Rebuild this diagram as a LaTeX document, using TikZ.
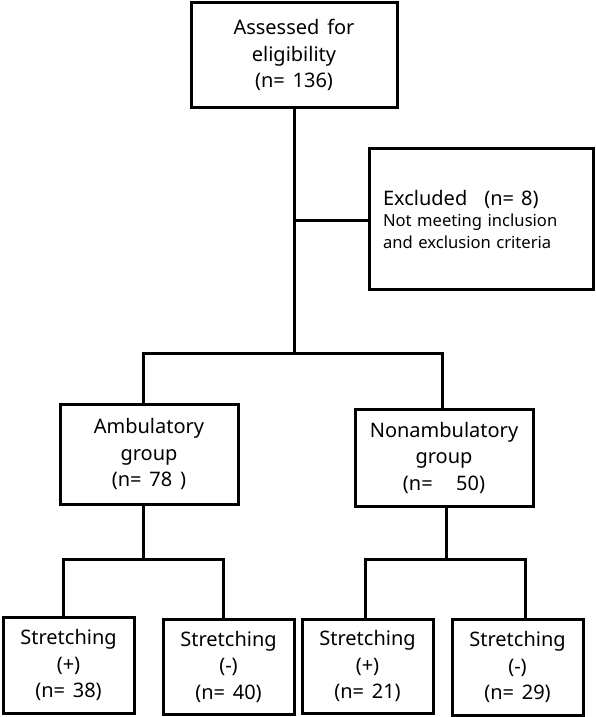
\documentclass[tikz,border=0pt]{standalone}
\usepackage{fontspec}
\setmainfont[WordSpace=1.5]{Noto Sans}
\begin{document}
\begin{tikzpicture}[x=1pt,y=-1pt,
  box/.style={draw=black,line width=3pt,inner sep=0pt,align=center,
    font=\fontsize{20}{26.5}\selectfont},
  conn/.style={draw=black,line width=3pt,line cap=rect}]
\useasboundingbox (0,0) rectangle (596,717);
% nodes
\node[box,minimum width=206pt,minimum height=104pt] (top) at (294,55)
  {Assessed for\\eligibility\\(n= 136)};
\node[box,minimum width=224pt,minimum height=141pt,text width=196pt,align=left,
  font=\fontsize{16.6}{21.5}\selectfont] (excl) at (481,219)
  {{\fontsize{20}{21.5}\selectfont Excluded\hspace{17pt}(n=\hspace{7pt}8)}\\
   Not meeting inclusion\\and exclusion criteria};
\node[box,minimum width=178pt,minimum height=100pt] (amb) at (149,454)
  {Ambulatory\\group\\(n= 78\ )};
\node[box,minimum width=178pt,minimum height=97pt] (non) at (444,457.5)
  {Nonambulatory\\group\\(n=\ \ \ 50)};
\node[box,minimum width=131pt,minimum height=96pt] (s1) at (68.5,665)
  {Stretching\\(+)\\(n= 38)};
\node[box,minimum width=131pt,minimum height=95pt] (s2) at (228.5,666.5)
  {Stretching\\(-)\\(n= 40)};
\node[box,minimum width=131pt,minimum height=94pt] (s3) at (367.5,666)
  {Stretching\\(+)\\(n= 21)};
\node[box,minimum width=131pt,minimum height=96pt] (s4) at (517.5,667)
  {Stretching\\(-)\\(n= 29)};
% junction coordinates
\coordinate (jx) at (294,220);
\coordinate (j0) at (294,353);
\coordinate (ja) at (143,353);
\coordinate (jn) at (442,353);
\coordinate (ka) at (143,559);
\coordinate (ka1) at (63,559);
\coordinate (ka2) at (223,559);
\coordinate (kn) at (446,559);
\coordinate (kn1) at (365,559);
\coordinate (kn2) at (525,559);
% connectors
\draw[conn] (top.south) -- (j0);
\draw[conn] (jx) -- (jx -| excl.west);
\draw[conn] (ja) -- (jn);
\draw[conn] (ja) -- (ja |- amb.north);
\draw[conn] (jn) -- (jn |- non.north);
\draw[conn] (ka |- amb.south) -- (ka);
\draw[conn] (ka1) -- (ka2);
\draw[conn] (ka1) -- (ka1 |- s1.north);
\draw[conn] (ka2) -- (ka2 |- s2.north);
\draw[conn] (kn |- non.south) -- (kn);
\draw[conn] (kn1) -- (kn2);
\draw[conn] (kn1) -- (kn1 |- s3.north);
\draw[conn] (kn2) -- (kn2 |- s4.north);
\end{tikzpicture}
\end{document}
